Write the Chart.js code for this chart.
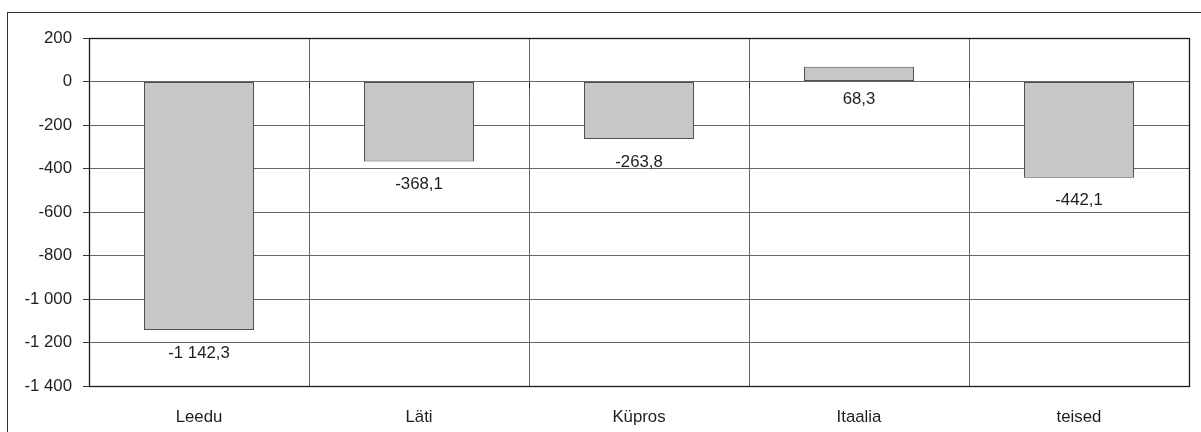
<!DOCTYPE html>
<html>
<head>
<meta charset="utf-8">
<script src="https://cdn.jsdelivr.net/npm/chart.js@4"></script>
<style>
html,body{margin:0;padding:0;background:#fff;}
#wrap{width:1201px;height:432px;position:relative;}
</style>
</head>
<body>
<div id="wrap"><canvas id="c" width="1201" height="432"></canvas></div>
<script>
const categories = ["Leedu", "Läti", "Küpros", "Itaalia", "teised"];
const values = [-1142.3, -368.1, -263.8, 68.3, -442.1];
const yMin = -1400;
const yMax = 200;
const yStep = 200;

function fmtThousands(v) {
  const neg = v < 0;
  const s = String(Math.abs(Math.round(v)));
  const out = s.replace(/\B(?=(\d{3})+(?!\d))/g, " ");
  return (neg ? "-" : "") + out;
}
function fmtValue(v) {
  const neg = v < 0;
  const abs = Math.abs(v);
  const parts = abs.toFixed(1).split(".");
  const intPart = parts[0].replace(/\B(?=(\d{3})+(?!\d))/g, " ");
  return (neg ? "-" : "") + intPart + "," + parts[1];
}

const FONT = "'Liberation Sans', Arial, sans-serif";
const FS = 16.8;

const framePlugin = {
  id: "frame",
  beforeDraw(chart) {
    const ctx = chart.ctx;
    ctx.save();
    ctx.fillStyle = "#fff";
    ctx.fillRect(0, 0, chart.width, chart.height);
    ctx.strokeStyle = "#333";
    ctx.lineWidth = 1;
    ctx.strokeRect(7.5, 12.5, 1400, 600);
    ctx.restore();
  },
  afterDatasetsDraw(chart) {
    const ctx = chart.ctx;
    const a = chart.chartArea;
    const y = chart.scales.y;
    ctx.save();
    const y0 = Math.round(y.getPixelForValue(0)) + 0.5;
    ctx.strokeStyle = "#222";
    ctx.lineWidth = 1;
    for (let i = 0; i <= categories.length; i++) {
      const px = Math.round(a.left + (a.right - a.left) * i / categories.length) + 0.5;
      ctx.beginPath();
      ctx.moveTo(px, y0);
      ctx.lineTo(px, y0 + 6);
      ctx.stroke();
    }
    ctx.strokeStyle = "#1a1a1a";
    ctx.lineWidth = 1.3;
    ctx.strokeRect(Math.round(a.left) + 0.5, Math.round(a.top) + 0.5,
      Math.round(a.right - a.left), Math.round(a.bottom - a.top));
    ctx.fillStyle = "#1e1e1e";
    ctx.font = FS + "px " + FONT;
    ctx.textAlign = "center";
    ctx.textBaseline = "middle";
    const meta = chart.getDatasetMeta(0);
    meta.data.forEach((bar, i) => {
      const v = values[i];
      const yy = v < 0 ? bar.y + 23 : y.getPixelForValue(0) + 18;
      ctx.fillText(fmtValue(v), bar.x, yy);
    });
    ctx.restore();
  }
};

new Chart(document.getElementById("c"), {
  type: "bar",
  data: {
    labels: categories,
    datasets: [{
      data: values,
      backgroundColor: "#c6c7c9",
      borderColor: "#505050",
      borderWidth: 1,
      borderSkipped: false,
      barPercentage: 0.5,
      categoryPercentage: 1.0
    }]
  },
  options: {
    responsive: false,
    animation: false,
    devicePixelRatio: 1,
    layout: { padding: { top: 38, right: 12, left: 0, bottom: 0 } },
    plugins: {
      legend: { display: false },
      tooltip: { enabled: false }
    },
    scales: {
      x: {
        offset: true,
        grid: { display: true, offset: true, color: "#666", lineWidth: 1, drawTicks: false },
        border: { display: false },
        ticks: { color: "#1e1e1e", font: { family: FONT, size: FS }, padding: 21, maxRotation: 0 },
        afterFit(s) { s.height = 46; }
      },
      y: {
        min: yMin,
        max: yMax,
        grid: { color: "#666", lineWidth: 1, drawTicks: true, tickLength: 6, tickColor: "#333" },
        border: { display: false },
        ticks: {
          stepSize: yStep,
          color: "#1e1e1e",
          padding: 11,
          font: { family: FONT, size: FS },
          callback: (v) => fmtThousands(v)
        },
        afterFit(s) { s.width = 89; }
      }
    }
  },
  plugins: [framePlugin]
});
</script>
</body>
</html>
